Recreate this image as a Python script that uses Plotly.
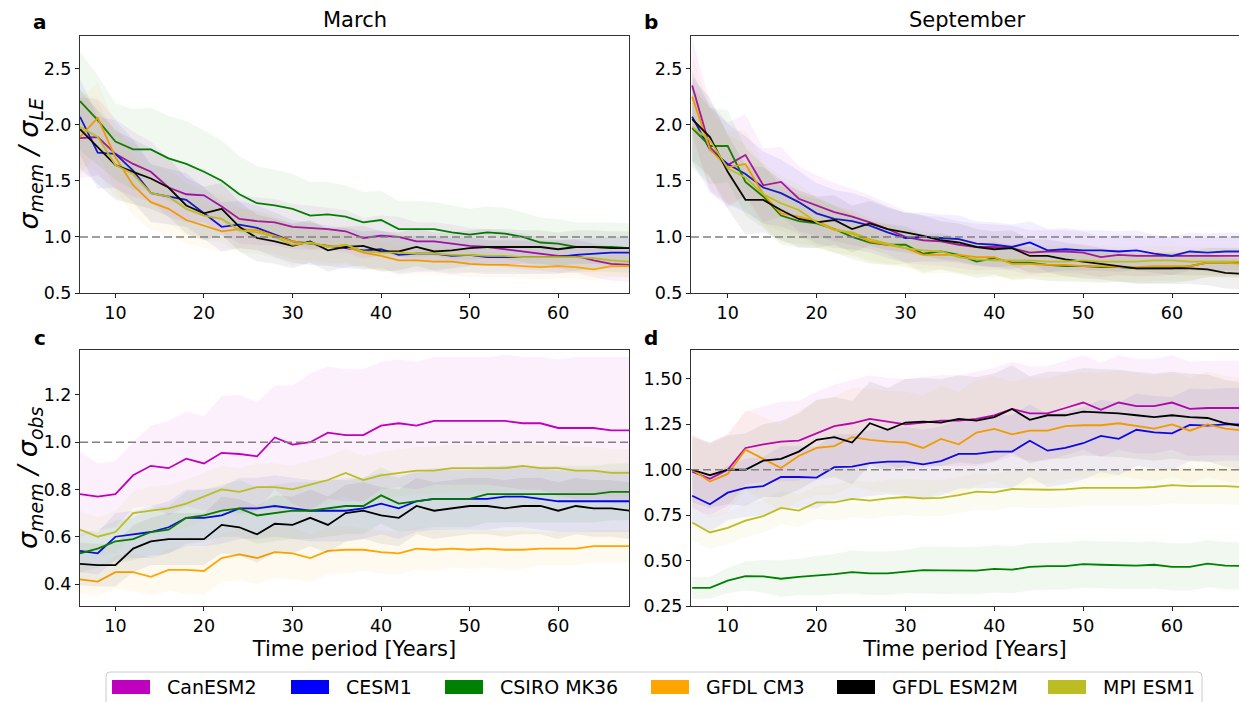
import plotly.graph_objects as go

W, H = 1239, 702

# ---------------- data ----------------
years = list(range(6, 69, 2))
tick_years = [10, 20, 30, 40, 50, 60]

models = ["CanESM2", "CESM1", "CSIRO MK36", "GFDL CM3", "GFDL ESM2M", "MPI ESM1"]
colors = ["#bf00bf", "#0000ff", "#008000", "#ffa500", "#000000", "#bcbd22"]

# Panel a: March, sigma_mem / sigma_LE
can_a = [1.88,1.89,1.74,1.65,1.58,1.44,1.38,1.37,1.27,1.16,1.14,1.13,1.09,1.08,1.07,1.05,0.99,1.01,1.00,0.96,0.96,0.94,0.92,0.91,0.89,0.87,0.85,0.83,0.83,0.79,0.76,0.75]
cesm_a = [2.07,1.75,1.74,1.59,1.39,1.36,1.33,1.21,1.09,1.11,1.08,1.02,0.96,0.94,0.92,0.90,0.88,0.89,0.84,0.85,0.85,0.83,0.84,0.82,0.82,0.82,0.82,0.82,0.84,0.85,0.86,0.86]
csiro_a = [2.21,2.04,1.85,1.78,1.78,1.70,1.65,1.58,1.50,1.38,1.30,1.28,1.25,1.19,1.20,1.18,1.13,1.15,1.07,1.07,1.07,1.04,1.02,1.04,1.03,1.00,0.95,0.94,0.91,0.91,0.91,0.90]
cm3_a = [1.89,2.06,1.71,1.46,1.31,1.25,1.15,1.10,1.05,1.07,1.06,1.01,0.96,0.94,0.92,0.91,0.86,0.83,0.79,0.79,0.78,0.78,0.76,0.75,0.75,0.74,0.73,0.74,0.73,0.71,0.74,0.74]
esm2m_a = [1.96,1.80,1.64,1.58,1.52,1.44,1.28,1.21,1.25,1.09,0.99,0.96,0.92,0.96,0.88,0.91,0.92,0.87,0.87,0.91,0.87,0.88,0.90,0.91,0.91,0.91,0.91,0.89,0.91,0.91,0.90,0.90]
mpi_a = [1.98,1.89,1.64,1.56,1.39,1.36,1.25,1.19,1.16,1.06,1.04,1.00,0.93,0.95,0.91,0.93,0.87,0.86,0.86,0.85,0.85,0.84,0.84,0.83,0.83,0.82,0.82,0.82,0.82,0.81,0.79,0.78]

can_a_sd = [0.36,0.34,0.31,0.29,0.27,0.26,0.25,0.24,0.23,0.22,0.21,0.21,0.20,0.20,0.19,0.19,0.18,0.18,0.18,0.17,0.17,0.17,0.16,0.16,0.16,0.16,0.15,0.15,0.15,0.15,0.15,0.15]
cesm_a_sd = [0.34,0.32,0.30,0.28,0.26,0.25,0.24,0.23,0.22,0.21,0.20,0.20,0.19,0.19,0.18,0.18,0.17,0.17,0.17,0.16,0.16,0.16,0.16,0.15,0.15,0.15,0.15,0.15,0.14,0.14,0.14,0.14]
csiro_a_sd = [0.44,0.40,0.34,0.36,0.37,0.38,0.38,0.37,0.36,0.34,0.33,0.32,0.31,0.30,0.29,0.28,0.27,0.26,0.25,0.25,0.24,0.24,0.23,0.23,0.23,0.22,0.22,0.22,0.22,0.22,0.22,0.22]
cm3_a_sd = [0.34,0.32,0.29,0.27,0.25,0.23,0.21,0.20,0.19,0.18,0.17,0.16,0.16,0.15,0.15,0.14,0.14,0.13,0.13,0.12,0.12,0.12,0.12,0.11,0.11,0.11,0.11,0.11,0.10,0.10,0.10,0.10]
esm2m_a_sd = [0.35,0.33,0.31,0.29,0.27,0.26,0.25,0.24,0.23,0.22,0.21,0.20,0.20,0.19,0.19,0.18,0.18,0.18,0.17,0.17,0.17,0.16,0.16,0.16,0.16,0.15,0.15,0.15,0.15,0.15,0.15,0.15]
mpi_a_sd = [0.33,0.31,0.29,0.27,0.25,0.24,0.23,0.22,0.21,0.20,0.19,0.19,0.18,0.18,0.17,0.17,0.16,0.16,0.16,0.15,0.15,0.15,0.15,0.14,0.14,0.14,0.14,0.14,0.14,0.14,0.14,0.14]

# Panel b: September, sigma_mem / sigma_LE
can_b = [2.35,1.80,1.64,1.73,1.46,1.49,1.34,1.28,1.22,1.18,1.13,1.07,1.00,0.97,0.96,0.93,0.91,0.91,0.90,0.86,0.87,0.87,0.86,0.82,0.84,0.83,0.83,0.83,0.83,0.83,0.83,0.83]
cesm_b = [2.07,1.78,1.65,1.56,1.44,1.39,1.31,1.21,1.16,1.14,1.10,1.04,0.99,1.00,0.99,0.98,0.94,0.93,0.91,0.95,0.88,0.89,0.88,0.88,0.87,0.88,0.85,0.83,0.87,0.86,0.87,0.87]
csiro_b = [1.97,1.81,1.81,1.49,1.36,1.19,1.14,1.12,1.07,1.00,0.95,0.93,0.93,0.85,0.87,0.84,0.78,0.81,0.77,0.77,0.75,0.74,0.74,0.73,0.73,0.72,0.72,0.72,0.74,0.77,0.77,0.77]
cm3_b = [2.25,1.78,1.62,1.65,1.38,1.21,1.18,1.14,1.07,1.03,0.96,0.93,0.90,0.84,0.84,0.84,0.82,0.82,0.76,0.76,0.75,0.75,0.74,0.74,0.73,0.73,0.74,0.74,0.74,0.77,0.77,0.76]
esm2m_b = [2.05,1.89,1.58,1.33,1.33,1.24,1.16,1.13,1.15,1.07,1.12,1.07,1.04,1.01,0.97,0.95,0.91,0.89,0.90,0.83,0.83,0.80,0.78,0.76,0.74,0.72,0.72,0.72,0.72,0.71,0.68,0.67]
mpi_b = [1.98,1.86,1.61,1.53,1.38,1.30,1.24,1.13,1.06,1.04,0.98,0.94,0.90,0.88,0.87,0.82,0.80,0.79,0.79,0.79,0.78,0.78,0.79,0.78,0.78,0.78,0.79,0.79,0.78,0.78,0.78,0.78]

can_b_sd = [0.42,0.40,0.38,0.36,0.33,0.31,0.29,0.27,0.26,0.25,0.24,0.23,0.23,0.22,0.22,0.21,0.21,0.20,0.20,0.20,0.19,0.19,0.19,0.18,0.18,0.18,0.18,0.17,0.17,0.17,0.17,0.17]
cesm_b_sd = [0.40,0.38,0.36,0.34,0.32,0.30,0.28,0.27,0.26,0.25,0.24,0.23,0.22,0.22,0.21,0.21,0.20,0.20,0.20,0.19,0.19,0.19,0.18,0.18,0.18,0.18,0.17,0.17,0.17,0.17,0.17,0.17]
csiro_b_sd = [0.36,0.34,0.32,0.30,0.28,0.26,0.24,0.22,0.21,0.20,0.19,0.18,0.17,0.17,0.16,0.16,0.15,0.15,0.15,0.14,0.14,0.14,0.14,0.14,0.13,0.13,0.13,0.13,0.13,0.13,0.13,0.13]
cm3_b_sd = [0.38,0.35,0.32,0.30,0.28,0.26,0.24,0.22,0.21,0.20,0.19,0.18,0.17,0.17,0.16,0.16,0.15,0.15,0.15,0.14,0.14,0.14,0.14,0.14,0.13,0.13,0.13,0.13,0.13,0.13,0.13,0.13]
esm2m_b_sd = [0.37,0.35,0.33,0.31,0.29,0.27,0.25,0.23,0.22,0.21,0.20,0.19,0.18,0.18,0.17,0.17,0.16,0.16,0.16,0.15,0.15,0.15,0.15,0.14,0.14,0.14,0.14,0.14,0.14,0.14,0.14,0.14]
mpi_b_sd = [0.35,0.33,0.31,0.29,0.27,0.25,0.23,0.22,0.21,0.20,0.19,0.18,0.17,0.17,0.16,0.16,0.15,0.15,0.15,0.14,0.14,0.14,0.14,0.14,0.13,0.13,0.13,0.13,0.13,0.13,0.13,0.13]

# Panel c: March, sigma_mem / sigma_obs
can_c = [0.78,0.77,0.78,0.86,0.90,0.89,0.93,0.91,0.955,0.95,0.94,1.02,0.99,1.00,1.04,1.03,1.03,1.07,1.08,1.07,1.09,1.09,1.09,1.09,1.09,1.08,1.08,1.06,1.06,1.06,1.05,1.05]
cesm_c = [0.54,0.53,0.60,0.61,0.62,0.64,0.68,0.68,0.69,0.72,0.72,0.73,0.72,0.71,0.71,0.71,0.72,0.74,0.72,0.75,0.76,0.76,0.76,0.76,0.77,0.77,0.76,0.75,0.75,0.75,0.75,0.75]
csiro_c = [0.53,0.55,0.58,0.59,0.62,0.63,0.68,0.69,0.71,0.72,0.69,0.70,0.71,0.71,0.72,0.73,0.73,0.775,0.74,0.75,0.76,0.76,0.76,0.78,0.78,0.78,0.78,0.78,0.78,0.78,0.79,0.79]
cm3_c = [0.42,0.41,0.45,0.45,0.43,0.46,0.46,0.455,0.51,0.525,0.51,0.535,0.53,0.51,0.54,0.545,0.545,0.535,0.53,0.55,0.545,0.55,0.545,0.55,0.545,0.545,0.55,0.55,0.55,0.56,0.56,0.56]
esm2m_c = [0.485,0.48,0.48,0.55,0.58,0.59,0.59,0.59,0.65,0.64,0.61,0.655,0.65,0.68,0.65,0.70,0.71,0.69,0.68,0.73,0.71,0.72,0.73,0.73,0.72,0.73,0.73,0.71,0.73,0.72,0.72,0.71]
mpi_c = [0.63,0.60,0.62,0.70,0.71,0.72,0.74,0.77,0.80,0.79,0.81,0.81,0.80,0.82,0.84,0.87,0.84,0.86,0.87,0.88,0.88,0.89,0.89,0.89,0.89,0.90,0.89,0.89,0.88,0.88,0.87,0.87]

can_c_sd = [0.18,0.14,0.14,0.14,0.17,0.20,0.20,0.20,0.24,0.25,0.23,0.22,0.25,0.29,0.28,0.28,0.28,0.27,0.27,0.27,0.27,0.27,0.27,0.27,0.28,0.28,0.28,0.29,0.30,0.30,0.31,0.31]
cesm_c_sd = [0.09,0.09,0.10,0.10,0.11,0.11,0.12,0.12,0.12,0.13,0.13,0.13,0.13,0.13,0.13,0.13,0.13,0.13,0.13,0.13,0.13,0.13,0.13,0.13,0.13,0.13,0.13,0.13,0.13,0.13,0.13,0.13]
csiro_c_sd = [0.08,0.08,0.09,0.09,0.10,0.10,0.11,0.11,0.11,0.12,0.12,0.12,0.12,0.12,0.12,0.12,0.12,0.12,0.12,0.12,0.12,0.12,0.12,0.12,0.12,0.12,0.12,0.12,0.12,0.12,0.12,0.12]
cm3_c_sd = [0.06,0.06,0.07,0.08,0.08,0.09,0.10,0.10,0.10,0.11,0.11,0.11,0.11,0.10,0.10,0.10,0.09,0.09,0.09,0.09,0.09,0.08,0.08,0.08,0.08,0.08,0.07,0.07,0.07,0.07,0.07,0.07]
esm2m_c_sd = [0.09,0.09,0.09,0.10,0.10,0.11,0.11,0.11,0.12,0.12,0.12,0.12,0.12,0.12,0.12,0.12,0.12,0.12,0.12,0.12,0.12,0.12,0.12,0.12,0.12,0.12,0.12,0.12,0.12,0.12,0.12,0.12]
mpi_c_sd = [0.08,0.08,0.09,0.09,0.10,0.10,0.10,0.10,0.10,0.10,0.10,0.10,0.10,0.10,0.10,0.10,0.10,0.10,0.10,0.10,0.10,0.10,0.10,0.10,0.10,0.10,0.10,0.10,0.10,0.10,0.10,0.10]

# Panel d: September, sigma_mem / sigma_obs
can_d = [0.99,0.95,1.00,1.12,1.14,1.155,1.16,1.20,1.24,1.256,1.28,1.265,1.25,1.26,1.27,1.27,1.28,1.30,1.335,1.31,1.31,1.34,1.37,1.33,1.37,1.35,1.35,1.37,1.335,1.34,1.34,1.34]
cesm_d = [0.857,0.81,0.874,0.90,0.91,0.96,0.96,0.957,1.014,1.017,1.036,1.045,1.045,1.03,1.048,1.087,1.087,1.10,1.10,1.16,1.105,1.12,1.146,1.186,1.17,1.22,1.206,1.20,1.247,1.243,1.25,1.25]
csiro_d = [0.35,0.35,0.39,0.415,0.413,0.40,0.41,0.417,0.426,0.437,0.43,0.43,0.44,0.448,0.446,0.445,0.445,0.454,0.45,0.465,0.47,0.47,0.48,0.477,0.476,0.472,0.477,0.465,0.465,0.483,0.472,0.47]
cm3_d = [1.00,0.935,0.977,1.11,1.06,1.01,1.076,1.12,1.13,1.18,1.165,1.155,1.15,1.12,1.17,1.14,1.205,1.225,1.195,1.215,1.215,1.24,1.245,1.245,1.256,1.24,1.227,1.25,1.215,1.25,1.227,1.215]
esm2m_d = [1.00,0.97,1.00,1.00,1.05,1.06,1.10,1.165,1.18,1.15,1.256,1.22,1.26,1.265,1.26,1.28,1.27,1.29,1.335,1.275,1.30,1.30,1.32,1.315,1.31,1.30,1.29,1.30,1.29,1.285,1.256,1.24]
mpi_d = [0.71,0.655,0.68,0.72,0.745,0.79,0.775,0.82,0.82,0.84,0.83,0.843,0.85,0.843,0.845,0.86,0.88,0.876,0.894,0.89,0.89,0.892,0.90,0.90,0.90,0.90,0.905,0.915,0.91,0.91,0.91,0.905]

can_d_sd = [0.20,0.20,0.20,0.20,0.21,0.22,0.22,0.23,0.23,0.24,0.24,0.24,0.25,0.25,0.25,0.25,0.26,0.26,0.26,0.26,0.26,0.26,0.26,0.26,0.26,0.26,0.26,0.26,0.26,0.26,0.26,0.26]
cesm_d_sd = [0.15,0.15,0.15,0.16,0.16,0.17,0.17,0.17,0.18,0.18,0.18,0.18,0.19,0.19,0.19,0.19,0.19,0.20,0.20,0.20,0.20,0.20,0.20,0.20,0.20,0.20,0.20,0.20,0.20,0.20,0.20,0.20]
csiro_d_sd = [0.06,0.06,0.07,0.08,0.09,0.10,0.10,0.11,0.11,0.12,0.12,0.12,0.12,0.13,0.13,0.13,0.13,0.13,0.13,0.13,0.13,0.13,0.13,0.13,0.13,0.13,0.13,0.13,0.13,0.13,0.13,0.13]
cm3_d_sd = [0.20,0.20,0.21,0.22,0.23,0.24,0.25,0.26,0.27,0.27,0.28,0.28,0.28,0.29,0.29,0.29,0.29,0.29,0.29,0.29,0.29,0.29,0.29,0.29,0.29,0.29,0.29,0.29,0.29,0.29,0.29,0.29]
esm2m_d_sd = [0.18,0.18,0.19,0.20,0.20,0.21,0.21,0.22,0.22,0.23,0.23,0.23,0.24,0.24,0.24,0.24,0.24,0.24,0.24,0.24,0.24,0.24,0.24,0.24,0.24,0.24,0.24,0.24,0.24,0.24,0.24,0.24]
mpi_d_sd = [0.10,0.09,0.09,0.09,0.09,0.09,0.09,0.09,0.10,0.10,0.10,0.10,0.10,0.10,0.10,0.10,0.10,0.10,0.10,0.10,0.10,0.10,0.10,0.10,0.10,0.10,0.10,0.10,0.10,0.10,0.10,0.10]

panel_series = [
    [can_a, cesm_a, csiro_a, cm3_a, esm2m_a, mpi_a],
    [can_b, cesm_b, csiro_b, cm3_b, esm2m_b, mpi_b],
    [can_c, cesm_c, csiro_c, cm3_c, esm2m_c, mpi_c],
    [can_d, cesm_d, csiro_d, cm3_d, esm2m_d, mpi_d],
]
panel_spreads = [
    [can_a_sd, cesm_a_sd, csiro_a_sd, cm3_a_sd, esm2m_a_sd, mpi_a_sd],
    [can_b_sd, cesm_b_sd, csiro_b_sd, cm3_b_sd, esm2m_b_sd, mpi_b_sd],
    [can_c_sd, cesm_c_sd, csiro_c_sd, cm3_c_sd, esm2m_c_sd, mpi_c_sd],
    [can_d_sd, cesm_d_sd, csiro_d_sd, cm3_d_sd, esm2m_d_sd, mpi_d_sd],
]

panel_titles = ["March", "September"]
panel_letters = ["a", "b", "c", "d"]
x_label = "Time period [Years]"
y_label_le = "σ<sub>mem</sub> / σ<sub>LE</sub>"
y_label_obs = "σ<sub>mem</sub> / σ<sub>obs</sub>"

# ---------------- layout helpers ----------------
FONT = "DejaVu Sans"


def px_x(p):
    return p / W


def px_y(p):
    return 1 - p / H


def rgba(hexc, a):
    h = hexc.lstrip("#")
    r, g, b = int(h[0:2], 16), int(h[2:4], 16), int(h[4:6], 16)
    return f"rgba({r},{g},{b},{a})"


fig = go.Figure()

axis_ids = [("x", "y"), ("x2", "y2"), ("x3", "y3"), ("x4", "y4")]

for pi, (series, spreads) in enumerate(zip(panel_series, panel_spreads)):
    xa, ya = axis_ids[pi]
    for mi in range(len(models)):
        vals = series[mi]
        sd = spreads[mi]
        upper = [v + s for v, s in zip(vals, sd)]
        lower = [v - s for v, s in zip(vals, sd)]
        fig.add_trace(go.Scatter(
            x=years + years[::-1], y=upper + lower[::-1],
            fill="toself", fillcolor=rgba(colors[mi], 0.06),
            line=dict(width=0), mode="lines", hoverinfo="skip",
            showlegend=False, xaxis=xa, yaxis=ya))
        fig.add_trace(go.Scatter(
            x=years, y=vals, mode="lines", name=models[mi],
            line=dict(color=colors[mi], width=1.8),
            showlegend=False, xaxis=xa, yaxis=ya))

# domains (pixels)
top_row = [px_y(293), px_y(36)]
bot_row = [px_y(606), px_y(349.5)]
left_col = [px_x(80), px_x(629)]
right_col = [px_x(691), 1.0]

tickfont = dict(family=FONT, size=17.5, color="black")
common_x = dict(tickvals=tick_years, ticks="outside", ticklen=4, tickwidth=1,
                tickcolor="#222", showgrid=False, zeroline=False, showline=True,
                linecolor="#333", linewidth=1, tickfont=tickfont)
common_y = dict(ticks="outside", ticklen=4, tickwidth=1, tickcolor="#222",
                showgrid=False, zeroline=False, showline=True, linecolor="#333",
                linewidth=1, tickfont=tickfont)
xtitle = dict(text=x_label, font=dict(family=FONT, size=21, color="black"), standoff=6)

fig.update_layout(
    width=W, height=H,
    margin=dict(l=0, r=0, t=0, b=0, autoexpand=False),
    paper_bgcolor="white", plot_bgcolor="white",
    showlegend=False,
    font=dict(family=FONT, size=17.5, color="black"),
    xaxis=dict(domain=left_col, range=[6, 68], anchor="y", mirror=True, **common_x),
    yaxis=dict(domain=top_row, range=[0.5, 2.79], anchor="x", mirror=True,
               tickvals=[0.5, 1.0, 1.5, 2.0, 2.5], tickformat=".1f", **common_y),
    xaxis2=dict(domain=right_col, range=[5.87, 67.54], anchor="y2", mirror=True, **common_x),
    yaxis2=dict(domain=top_row, range=[0.5, 2.79], anchor="x2", mirror=False,
                tickvals=[0.5, 1.0, 1.5, 2.0, 2.5], tickformat=".1f", **common_y),
    xaxis3=dict(domain=left_col, range=[6, 68], anchor="y3", mirror=True,
                title=xtitle, **common_x),
    yaxis3=dict(domain=bot_row, range=[0.307, 1.392], anchor="x3", mirror=True,
                tickvals=[0.4, 0.6, 0.8, 1.0, 1.2], tickformat=".1f", **common_y),
    xaxis4=dict(domain=right_col, range=[5.87, 67.54], anchor="y4", mirror=True,
                title=xtitle, **common_x),
    yaxis4=dict(domain=bot_row, range=[0.25, 1.662], anchor="x4", mirror=False,
                tickvals=[0.25, 0.5, 0.75, 1.0, 1.25, 1.5], tickformat=".2f", **common_y),
)

shapes = []
# dashed reference lines at ratio = 1
for xa, ya in axis_ids:
    shapes.append(dict(type="line", xref=f"{xa} domain", yref=ya, x0=0, x1=1, y0=1, y1=1,
                       line=dict(color="#808080", width=1.5, dash="8px,4px"), layer="above"))

annotations = []


def ann(text, xp, yp, size, weight="normal", style="normal", **kw):
    d = dict(text=text, x=px_x(xp), y=px_y(yp), xref="paper", yref="paper",
             showarrow=False,
             font=dict(family=FONT, size=size, color="black", weight=weight, style=style),
             xanchor=kw.pop("xanchor", "center"), yanchor=kw.pop("yanchor", "middle"))
    d.update(kw)
    annotations.append(d)


ann(panel_titles[0], (80 + 629) / 2, 20, 21)
ann(panel_titles[1], (691 + 1243) / 2, 20, 21)
ann(panel_letters[0], 40, 22, 20, weight="bold")
ann(panel_letters[1], 651, 22, 20, weight="bold")
ann(panel_letters[2], 40, 338, 20, weight="bold")
ann(panel_letters[3], 651, 338, 20, weight="bold")
ann(y_label_le, 30, 164.5, 27, style="italic", textangle=-90)
ann(y_label_obs, 30, 478, 27, style="italic", textangle=-90)

# legend (drawn manually to match the wide rectangular patches)
lx0, lx1, ly0, ly1, rr = 106, 1202, 672, 708, 4
path = (f"M {px_x(lx0 + rr)},{px_y(ly0)} L {px_x(lx1 - rr)},{px_y(ly0)} "
        f"Q {px_x(lx1)},{px_y(ly0)} {px_x(lx1)},{px_y(ly0 + rr)} "
        f"L {px_x(lx1)},{px_y(ly1)} L {px_x(lx0)},{px_y(ly1)} "
        f"L {px_x(lx0)},{px_y(ly0 + rr)} Q {px_x(lx0)},{px_y(ly0)} {px_x(lx0 + rr)},{px_y(ly0)} Z")
shapes.append(dict(type="path", path=path, xref="paper", yref="paper",
                   line=dict(color="#cccccc", width=1), fillcolor="white", layer="above"))
patch_x = [112, 291, 445, 651, 837, 1048]
for i, name in enumerate(models):
    x0 = patch_x[i]
    shapes.append(dict(type="rect", xref="paper", yref="paper",
                       x0=px_x(x0), x1=px_x(x0 + 38), y0=px_y(694), y1=px_y(680),
                       line=dict(width=0), fillcolor=colors[i], layer="above"))
    ann(name, x0 + 38 + 15, 687, 19, xanchor="left")

fig.update_layout(shapes=shapes, annotations=annotations)

fig.write_html("out.html", config={"displayModeBar": False})
